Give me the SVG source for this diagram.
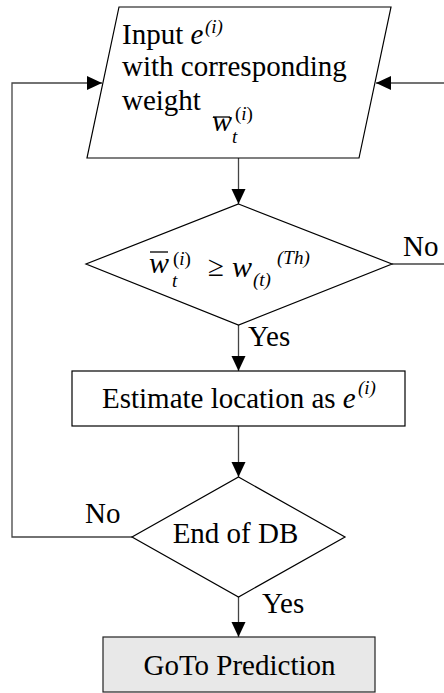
<svg xmlns="http://www.w3.org/2000/svg" width="444" height="693" viewBox="0 0 444 693" font-family="'Liberation Serif', 'Times New Roman', Times, serif">
<defs>
<marker id="ah" markerWidth="16" markerHeight="16" refX="15" refY="7" orient="auto" markerUnits="userSpaceOnUse">
<path d="M0,0 L15,7 L0,14 Z" fill="#000"/>
</marker>
<style>
.shape{fill:#fff;stroke:#000;stroke-width:1.2}
.conn{fill:none;stroke:#444;stroke-width:1.3}
text{font-family:'Liberation Serif','Times New Roman',Times,serif;font-size:29px;fill:#000}
.it{font-style:italic}
.sup{font-size:19px}
.m{font-size:30px}
</style>
</defs>
<rect width="444" height="693" fill="#fff"/>
<g id="connectors">
<path class="conn" d="M444,83 L376,83" marker-end="url(#ah)"/>
<path class="conn" d="M132,537 L12,537 L12,83 L102,83" marker-end="url(#ah)"/>
<path class="conn" d="M238.5,158 L238.5,204" marker-end="url(#ah)"/>
<path class="conn" d="M392,264 L444,264"/>
<path class="conn" d="M238.5,325 L238.5,371" marker-end="url(#ah)"/>
<path class="conn" d="M238.5,426 L238.5,477" marker-end="url(#ah)"/>
<path class="conn" d="M238.5,597 L238.5,637" marker-end="url(#ah)"/>
<text x="403" y="256">No</text>
<text x="248" y="346">Yes</text>
<text x="85" y="523">No</text>
<text x="262" y="613">Yes</text>
</g>
<g id="input">
<polygon class="shape" points="119,7 391,7 359,158 87,158"/>
<text x="122" y="44">Input <tspan class="it">e</tspan></text>
<text x="205" y="33" class="sup it">(i)</text>
<text x="122" y="76">with corresponding</text>
<text x="122" y="110">weight</text>
<text x="212" y="131" class="it m">w</text>
<line x1="213" y1="117" x2="230" y2="117" stroke="#000" stroke-width="1.3"/>
<text x="232" y="143" class="it sup">t</text>
<text x="235" y="120" class="sup">(<tspan class="it">i</tspan>)</text>
</g>
<g id="decision1">
<polygon class="shape" points="238.5,204 392,264 238.5,325 86,264"/>
<text x="149" y="273" class="it m">w</text>
<line x1="150" y1="252" x2="168" y2="252" stroke="#000" stroke-width="1.3"/>
<text x="172" y="287" class="it sup">t</text>
<text x="173" y="265" class="sup">(<tspan class="it">i</tspan>)</text>
<text x="208" y="276">≥</text>
<text x="232" y="277" class="it m">w</text>
<text x="253" y="286" class="it sup">(t)</text>
<text x="277" y="264" class="it sup">(Th)</text>
</g>
<g id="estimate">
<rect class="shape" x="72" y="371" width="333" height="55"/>
<text x="102" y="408">Estimate location as <tspan class="it">e</tspan></text>
<text x="358" y="394" class="sup it">(i)</text>
</g>
<g id="decision2">
<polygon class="shape" points="238.5,477 345,537 238.5,597 132,537"/>
<text x="235.5" y="543" text-anchor="middle">End of DB</text>
</g>
<g id="goto">
<rect x="103" y="637" width="272" height="55" fill="#e8e8e8" stroke="#222" stroke-width="1.2"/>
<text x="239.5" y="675" text-anchor="middle">GoTo Prediction</text>
</g>
</svg>
